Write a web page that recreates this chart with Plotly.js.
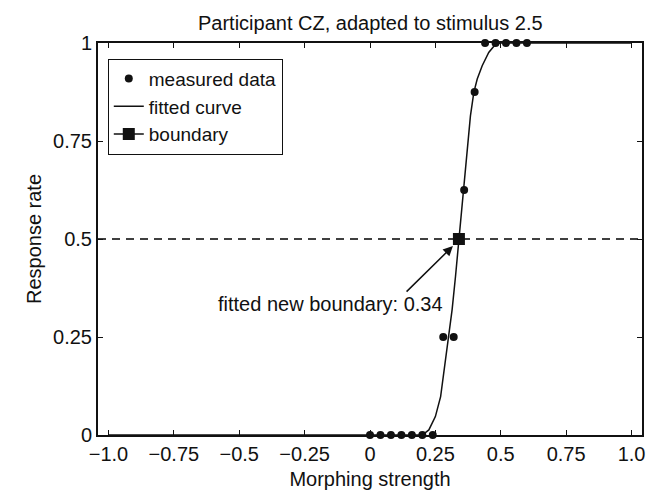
<!DOCTYPE html>
<html>
<head>
<meta charset="utf-8">
<script src="https://cdn.plot.ly/plotly-3.0.1.min.js"></script>
<style>html,body{margin:0;padding:0;background:#fff}#chart{width:666px;height:496px}</style>
</head>
<body>
<div id="chart"></div>
<script>
// measured data
const dataX = [0, 0.04, 0.08, 0.12, 0.16, 0.20, 0.24, 0.28, 0.32, 0.36, 0.40, 0.44, 0.48, 0.52, 0.56, 0.60];
const dataY = [0, 0, 0, 0, 0, 0, 0, 0.25, 0.25, 0.625, 0.875, 1, 1, 1, 1, 1];
// fitted curve
const curveX = [-1.0, 0.20, 0.225, 0.25, 0.27, 0.282, 0.295, 0.308, 0.314, 0.327, 0.34, 0.356, 0.371, 0.384, 0.397, 0.41, 0.429, 0.454, 0.48, 0.50, 1.0];
const curveY = [0, 0, 0.013, 0.047, 0.098, 0.158, 0.226, 0.294, 0.32, 0.405, 0.5, 0.625, 0.737, 0.814, 0.874, 0.908, 0.942, 0.976, 0.997, 1, 1];
// boundary
const boundaryX = [0.34];
const boundaryY = [0.5];
const boundaryLabel = "fitted new boundary: 0.34";
// ticks
const xTickVals = [-1, -0.75, -0.5, -0.25, 0, 0.25, 0.5, 0.75, 1];
const xTickText = ["\u22121.0", "\u22120.75", "\u22120.5", "\u22120.25", "0", "0.25", "0.5", "0.75", "1.0"];
const yTickVals = [0, 0.25, 0.5, 0.75, 1];
const yTickText = ["0", "0.25", "0.5", "0.75", "1"];

const FONT = "Liberation Sans, Arial, Helvetica, sans-serif";

const traces = [
  {x: dataX, y: dataY, mode: "markers", name: "measured data",
   marker: {color: "#111", size: 8, symbol: "circle"}, cliponaxis: false},
  {x: curveX, y: curveY, mode: "lines", name: "fitted curve",
   line: {color: "#111", width: 1.5, shape: "linear"}},
  {x: boundaryX, y: boundaryY, mode: "lines+markers", name: "boundary",
   line: {color: "#111", width: 1.5},
   marker: {color: "#111", size: 12, symbol: "square"}}
];

const axisCommon = {
  showline: true, linecolor: "#111", linewidth: 2, mirror: "ticks",
  ticks: "inside", ticklen: 5, tickwidth: 1, tickcolor: "#111",
  showgrid: false, zeroline: false,
  tickfont: {family: FONT, size: 20, color: "#111"}
};

const layout = {
  width: 666, height: 496,
  margin: {l: 98, r: 24, t: 43, b: 61},
  paper_bgcolor: "#fff", plot_bgcolor: "#fff",
  font: {family: FONT, color: "#111"},
  title: {text: "Participant CZ, adapted to stimulus 2.5",
          font: {family: FONT, size: 20, color: "#111"},
          x: 0.556, xanchor: "center", y: 0.954, yanchor: "middle", yref: "container"},
  xaxis: Object.assign({}, axisCommon, {
    range: [-1.04, 1.04], tickvals: xTickVals, ticktext: xTickText,
    title: {text: "Morphing strength", font: {family: FONT, size: 20, color: "#111"}, standoff: 8}
  }),
  yaxis: Object.assign({}, axisCommon, {
    range: [0, 1], tickvals: yTickVals, ticktext: yTickText,
    title: {text: "Response rate", font: {family: FONT, size: 20, color: "#111"}, standoff: 6}
  }),
  showlegend: true,
  legend: {x: 0.018, y: 0.96, xanchor: "left", yanchor: "top",
           bgcolor: "#fff", bordercolor: "#111", borderwidth: 1,
           font: {family: FONT, size: 19, color: "#111"},
           tracegroupgap: 0, itemwidth: 30},
  shapes: [
    {type: "line", xref: "paper", yref: "y", x0: 0, x1: 1, y0: 0.5, y1: 0.5,
     line: {color: "#000", width: 1.3, dash: "8px,6px"}, layer: "below"}
  ],
  annotations: [
    {x: boundaryX[0] - 0.023, y: boundaryY[0] - 0.018, xref: "x", yref: "y",
     ax: 0.134, ay: 0.362, axref: "x", ayref: "y",
     text: "", showarrow: true, arrowhead: 2, arrowsize: 1.3, arrowwidth: 1.5, arrowcolor: "#111"},
    {x: -0.15, y: 0.335, xref: "x", yref: "y", text: boundaryLabel, showarrow: false,
     font: {family: FONT, size: 20, color: "#111"}, xanchor: "center", yanchor: "middle"}
  ]
};

Plotly.newPlot("chart", traces, layout, {displayModeBar: false, staticPlot: true});
</script>
</body>
</html>
